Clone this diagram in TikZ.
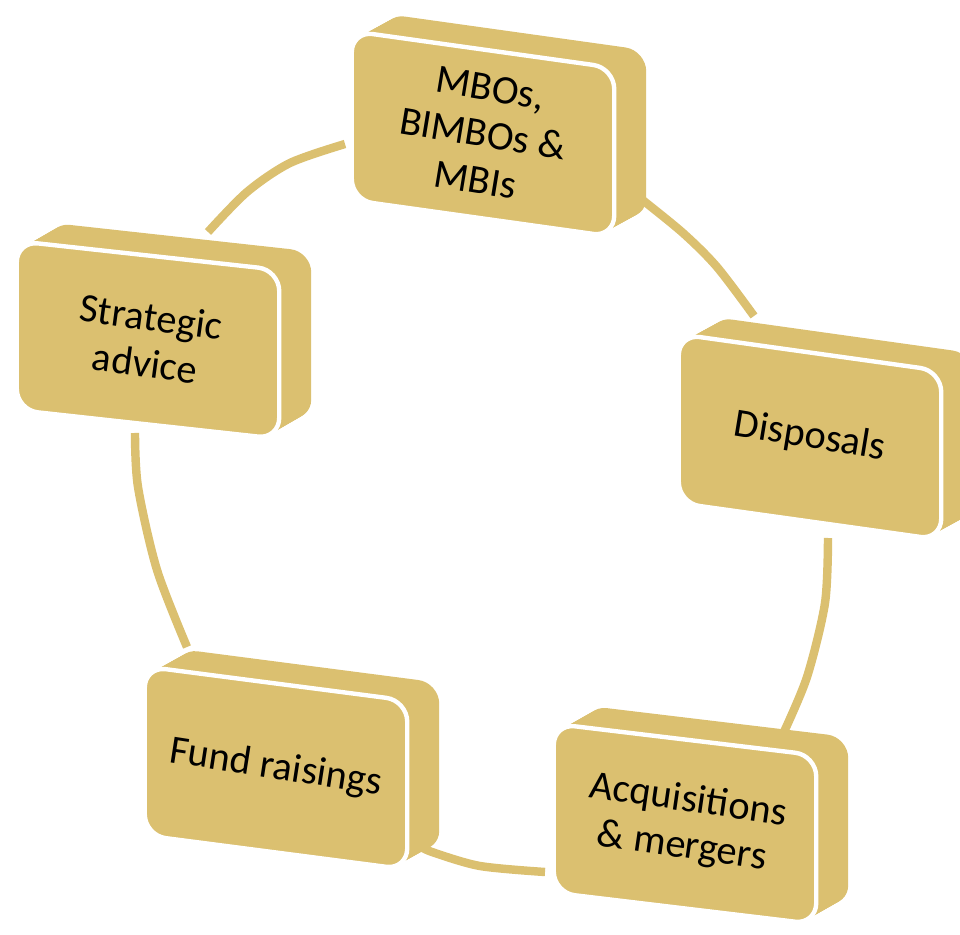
\documentclass[tikz,border=0pt]{standalone}
\usepackage{fontspec}
\setmainfont{Carlito}
\definecolor{gold}{RGB}{219,192,112}
\tikzset{
  slabface/.style={rectangle, rounded corners=0.42cm, minimum width=5.25cm,
    minimum height=3.38cm, fill=gold, inner sep=0pt, transform shape},
  slabfront/.style={slabface, draw=white, line width=2.5pt},
  slabtext/.style={align=center, inner sep=0pt, font=\fontsize{23}{26.5}\selectfont},
  ring/.style={draw=gold, line width=4.8pt},
}
\newcommand{\myslab}[4]{%
  \begin{scope}[shift={(#2)}, yslant=#3]
  \foreach \k in {20,19,...,1}{%
    \node[slabface] at (\k*1.6,-\k*1.1) {};}
  \node[slabfront] (#1) at (0,0) {};
  \end{scope}
  \node[slabtext, rotate={atan(#3-0.025)}] (#1t) at (#2) {#4};
}
\begin{document}
\begin{tikzpicture}[x=0.02cm, y=-0.02cm]
\useasboundingbox (0,0) rectangle (960,935);
% ring segment end points
\coordinate (a1) at (208,232); \coordinate (a2) at (247,192); \coordinate (a3) at (290,163); \coordinate (a4) at (345,144);
\coordinate (b1) at (640,198); \coordinate (b2) at (683,233); \coordinate (b3) at (717,267); \coordinate (b4) at (754,316);
\coordinate (c1) at (828,538); \coordinate (c2) at (825,603); \coordinate (c3) at (807,677); \coordinate (c4) at (783,734);
\coordinate (d1) at (545,872); \coordinate (d2) at (480,866); \coordinate (d3) at (432,852); \coordinate (d4) at (418,845);
\coordinate (e1) at (187,647); \coordinate (e2) at (157,570); \coordinate (e3) at (138,487); \coordinate (e4) at (135,433);
\draw[ring] plot[smooth] coordinates {(a1) (a2) (a3) (a4)};
\draw[ring] plot[smooth] coordinates {(b1) (b2) (b3) (b4)};
\draw[ring] plot[smooth] coordinates {(c1) (c2) (c3) (c4)};
\draw[ring] plot[smooth] coordinates {(d1) (d2) (d3) (d4)};
\draw[ring] plot[smooth] coordinates {(e1) (e2) (e3) (e4)};
% boxes
\myslab{mbo}{483,134}{-0.14}{MBOs,\\BIMBOs \&\\MBIs}
\myslab{strat}{148,340}{-0.11}{Strategic\\advice}
\myslab{disp}{810,437}{-0.14}{Disposals}
\myslab{acq}{685,824}{-0.12}{Acquisitions\\\& mergers}
\myslab{fund}{276,768}{-0.13}{Fund raisings}
\end{tikzpicture}
\end{document}
